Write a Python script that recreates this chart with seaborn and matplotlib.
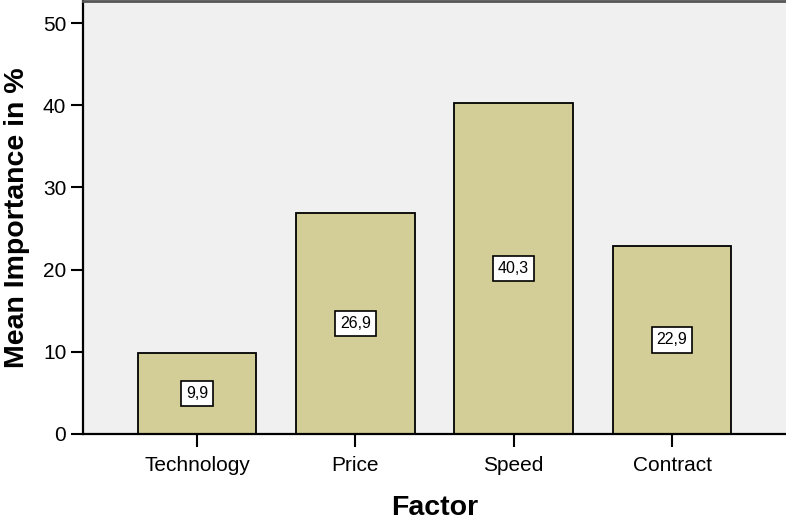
import numpy as np
import pandas as pd
import matplotlib
matplotlib.use("Agg")
import matplotlib.pyplot as plt
import seaborn as sns

# ----------------------------
# Data
# ----------------------------
factors = ["Technology", "Price", "Speed", "Contract"]
importance = [9.9, 26.9, 40.3, 22.9]
y_ticks = [0, 10, 20, 30, 40, 50]

df = pd.DataFrame({"Factor": factors, "Importance": importance})

# ----------------------------
# Style
# ----------------------------
sns.set_style("white")
plt.rcParams["font.family"] = ["Liberation Sans", "DejaVu Sans"]
plt.rcParams["text.color"] = "black"
plt.rcParams["axes.labelcolor"] = "black"
plt.rcParams["xtick.color"] = "black"
plt.rcParams["ytick.color"] = "black"

BAR_COLOR = "#D3CE97"
BG_COLOR = "#F0F0F0"

fig = plt.figure(figsize=(7.86, 5.23), dpi=100)
ax = fig.add_axes([0.1056, 0.1702, 0.8944, 0.828])
ax.set_facecolor(BG_COLOR)

sns.barplot(data=df, x="Factor", y="Importance", color=BAR_COLOR,
            edgecolor="black", linewidth=1.3, width=0.75, saturation=1, ax=ax)

# value labels in white boxes at bar middle
for i, v in enumerate(importance):
    ax.text(i, v / 2, f"{v:.1f}".replace(".", ","), ha="center", va="center",
            fontsize=11.5, color="black",
            bbox=dict(boxstyle="square,pad=0.32", fc="white", ec="black", lw=1.2))

ax.set_xlim(-0.72, 3.72)
ax.set_ylim(0, 52.7)
ax.set_yticks(y_ticks)
ax.tick_params(axis="both", which="both", direction="out", width=1.5,
               color="black", labelcolor="black", labelsize=15,
               left=True, bottom=True)
ax.tick_params(axis="x", length=9, pad=7)
ax.tick_params(axis="y", length=9, pad=3)

ax.set_xlabel("Factor", fontsize=20.5, fontweight="bold", labelpad=14, color="black")
ax.set_ylabel("Mean Importance in %", fontsize=20.5, fontweight="bold", labelpad=9,
              color="black")

for side in ["left", "bottom"]:
    ax.spines[side].set_color("black")
    ax.spines[side].set_linewidth(1.6)
ax.spines["top"].set_color("#555555")
ax.spines["top"].set_linewidth(2)
ax.spines["right"].set_visible(False)

fig.savefig("out.png", dpi=100, facecolor="white")
